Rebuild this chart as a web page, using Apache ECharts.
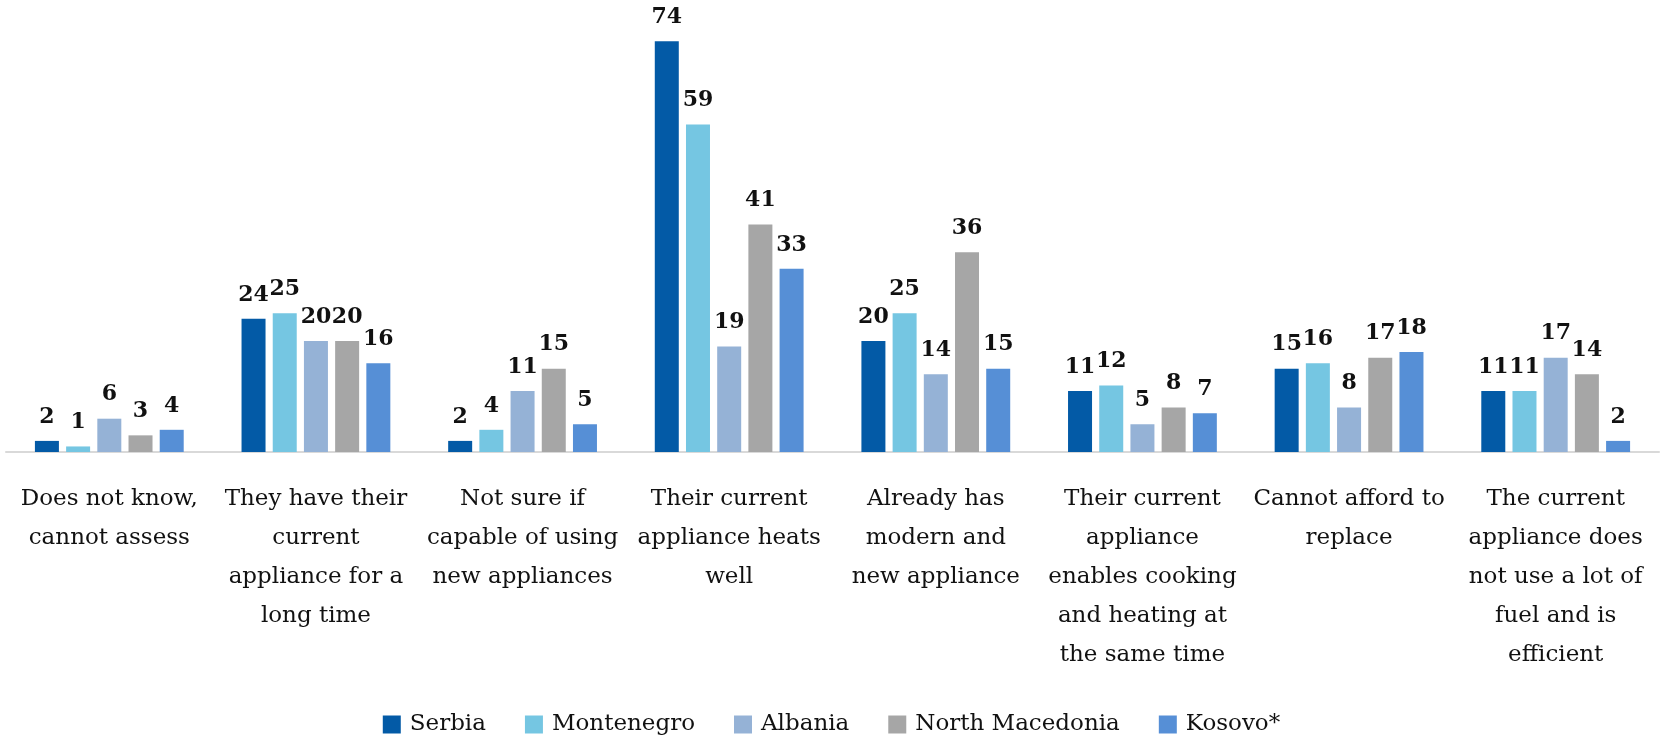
<!DOCTYPE html>
<html>
<head>
<meta charset="utf-8">
<script src="https://cdn.jsdelivr.net/npm/echarts@6/dist/echarts.min.js"></script>
<style>
html,body{margin:0;padding:0;background:#fff;}
#chart{width:1663px;height:736px;}
</style>
</head>
<body>
<div id="chart"></div>
<script>
const categories = [
  "Does not know,\ncannot assess",
  "They have their\ncurrent\nappliance for a\nlong time",
  "Not sure if\ncapable of using\nnew appliances",
  "Their current\nappliance heats\nwell",
  "Already has\nmodern and\nnew appliance",
  "Their current\nappliance\nenables cooking\nand heating at\nthe same time",
  "Cannot afford to\nreplace",
  "The current\nappliance does\nnot use a lot of\nfuel and is\nefficient"
];
const serbia         = [2, 24, 2, 74, 20, 11, 15, 11];
const montenegro     = [1, 25, 4, 59, 25, 12, 16, 11];
const albania        = [6, 20, 11, 19, 14, 5, 8, 17];
const northMacedonia = [3, 20, 15, 41, 36, 8, 17, 14];
const kosovo         = [4, 16, 5, 33, 15, 7, 18, 2];
const seriesNames = ["Serbia", "Montenegro", "Albania", "North Macedonia", "Kosovo*"];
const seriesData = [serbia, montenegro, albania, northMacedonia, kosovo];
const colors = ["#035AA6", "#75C6E2", "#95B2D6", "#A6A6A6", "#568FD6"];

const chart = echarts.init(document.getElementById('chart'));
const series = seriesNames.map((name, i) => ({
  name: name,
  type: 'bar',
  data: seriesData[i],
  barWidth: 24,
  barGap: '30%',
  itemStyle: { color: colors[i] },
  label: {
    show: true,
    position: 'top',
    distance: 13,
    fontFamily: 'DejaVu Serif',
    fontWeight: 'bold',
    fontSize: 22,
    lineHeight: 22,
    color: '#111'
  }
}));

chart.setOption({
  animation: false,
  color: colors,
  grid: { left: 6, right: 4, top: 8, bottom: 284, containLabel: false },
  legend: {
    top: 708,
    left: 'center',
    itemWidth: 18,
    itemHeight: 18,
    itemGap: 39,
    icon: 'rect',
    textStyle: { fontFamily: 'DejaVu Serif', fontSize: 23, color: '#111', padding: [0, 0, 0, 4] },
    data: seriesNames
  },
  xAxis: {
    type: 'category',
    data: categories,
    axisLine: { show: true, lineStyle: { color: '#D9D9D9', width: 2 } },
    axisTick: { show: false },
    axisLabel: {
      interval: 0,
      margin: 28,
      fontFamily: 'DejaVu Serif',
      fontSize: 23,
      lineHeight: 39,
      color: '#111',
      align: 'center'
    }
  },
  yAxis: {
    type: 'value',
    min: 0,
    max: 80,
    show: false,
    splitLine: { show: false }
  },
  series: series
});
</script>
</body>
</html>
